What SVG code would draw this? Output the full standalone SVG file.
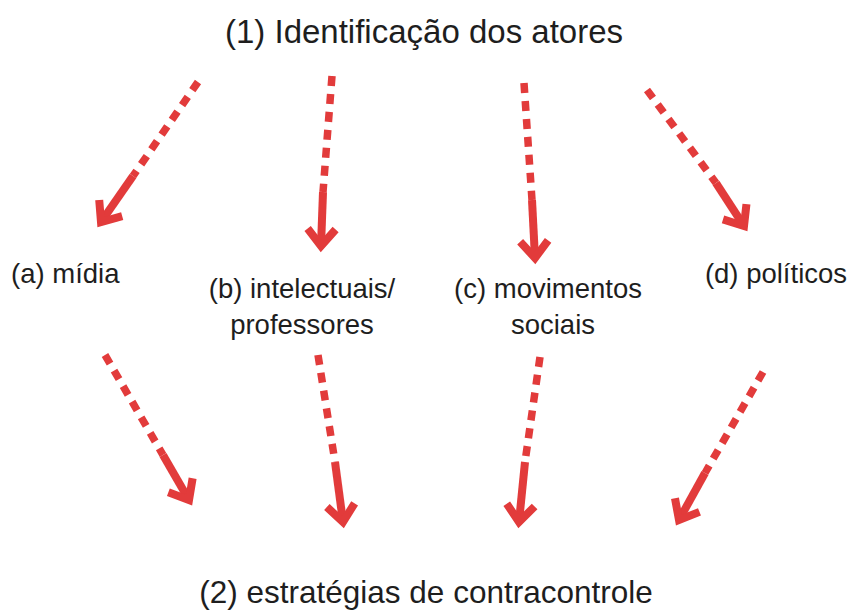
<svg xmlns="http://www.w3.org/2000/svg" width="852" height="613" viewBox="0 0 852 613">
<style>
text{font-family:"Liberation Sans",Arial,sans-serif;fill:#1e1e1e}
.title{font-size:33px}
.lbl{font-size:27.5px}
.dash{stroke:#e23b3b;stroke-width:7.5;stroke-dasharray:10 8;fill:none}
.solid{stroke:#e23b3b;stroke-width:8;fill:none;marker-end:url(#head)}
</style>
<defs>
<marker id="head" markerUnits="userSpaceOnUse" markerWidth="40" markerHeight="40" refX="0" refY="0" orient="auto" overflow="visible">
<path d="M-17,-14 L0,0 L-17,14" fill="none" stroke="#e23b3b" stroke-width="8" stroke-linejoin="miter"/>
</marker>
</defs>
<rect width="852" height="613" fill="#ffffff"/>
<g id="top"><text class="title" x="424" y="43" text-anchor="middle">(1) Identificação dos atores</text></g>
<g id="bottom"><text class="title" x="426" y="603" text-anchor="middle" style="font-size:31.5px">(2) estratégias de contracontrole</text></g>
<g id="a"><text class="lbl" x="11" y="283">(a) mídia</text></g>
<g id="b"><text class="lbl" x="302" y="298" text-anchor="middle">(b) intelectuais/</text><text class="lbl" x="302" y="334" text-anchor="middle">professores</text></g>
<g id="c"><text class="lbl" x="548" y="298" text-anchor="middle">(c) movimentos</text><text class="lbl" x="553" y="334" text-anchor="middle">sociais</text></g>
<g id="d"><text class="lbl" x="776" y="283" text-anchor="middle">(d) políticos</text></g>
<g id="connectors">
<line class="dash" x1="198" y1="82" x2="133" y2="176"/><line class="solid" x1="133" y1="176" x2="101" y2="222"/>
<line class="dash" x1="332" y1="76" x2="323" y2="192"/><line class="solid" x1="323" y1="192" x2="321" y2="246"/>
<line class="dash" x1="524" y1="83" x2="532" y2="200"/><line class="solid" x1="532" y1="200" x2="535" y2="258"/>
<line class="dash" x1="647" y1="90" x2="716" y2="183"/><line class="solid" x1="716" y1="183" x2="744" y2="226"/>
<line class="dash" x1="105" y1="355" x2="163" y2="455"/><line class="solid" x1="163" y1="455" x2="189" y2="500"/>
<line class="dash" x1="318" y1="355" x2="335" y2="462"/><line class="solid" x1="335" y1="462" x2="343" y2="522"/>
<line class="dash" x1="540" y1="357" x2="525" y2="462"/><line class="solid" x1="525" y1="462" x2="519" y2="522"/>
<line class="dash" x1="763" y1="372" x2="705" y2="473"/><line class="solid" x1="705" y1="473" x2="679" y2="520"/>
</g>
</svg>
